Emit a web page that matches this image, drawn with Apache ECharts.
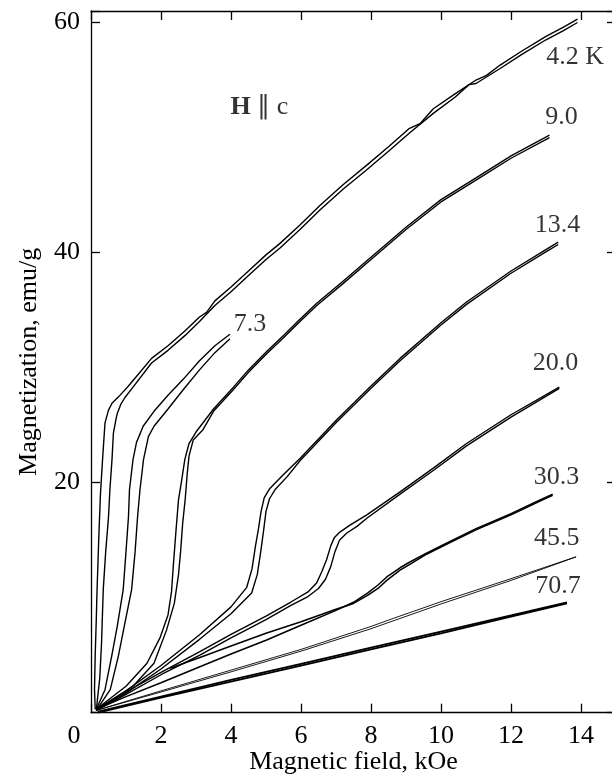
<!DOCTYPE html>
<html>
<head>
<meta charset="utf-8">
<script src="https://cdn.jsdelivr.net/npm/echarts@6/dist/echarts.min.js"></script>
<style>
html,body{margin:0;padding:0;background:#fff;}
#chart{width:612px;height:775px;}
</style>
</head>
<body>
<div id="chart"></div>
<script>
// ---- data (field kOe, magnetization emu/g); two sweep branches per temperature ----
var t42a = [[0.12,0.3],[0.1,2],[0.12,5],[0.15,8],[0.17,10.4],[0.22,15],[0.27,19],[0.33,22],[0.4,25.2],[0.5,26.3],[0.6,26.9],[0.8,27.5],[1.07,28.4],[1.4,29.6],[1.73,30.8],[2.2,31.9],[2.69,33.2],[3.1,34.4],[3.3,34.8],[3.54,35.8],[4.0,37.0],[4.5,38.4],[5.0,39.8],[5.4,40.8],[5.97,42.4],[6.54,44.1],[7.2,45.9],[7.88,47.6],[8.5,49.2],[9.1,50.8],[9.4,51.2],[9.78,52.5],[10.4,53.8],[11.0,55.0],[11.3,55.4],[11.69,56.3],[12.3,57.5],[13.0,58.8],[13.5,59.6],[13.9,60.3]];
var t42b = [[0.15,0.2],[0.25,3],[0.3,6],[0.35,10.7],[0.42,14],[0.5,17],[0.54,19.4],[0.6,22],[0.64,24.3],[0.72,25.6],[0.75,26.0],[0.85,26.8],[0.97,27.4],[1.2,28.3],[1.73,30.4],[2.2,31.5],[2.69,32.8],[3.1,34.0],[3.54,35.4],[4.0,36.6],[4.5,38.0],[5.0,39.4],[5.4,40.4],[5.97,42.0],[6.54,43.7],[7.2,45.5],[7.88,47.2],[8.5,48.8],[9.1,50.4],[9.78,52.1],[10.4,53.5],[10.8,54.6],[11.0,54.7],[11.69,56.0],[12.3,57.2],[13.0,58.5],[13.5,59.3],[13.9,60.0]];
var t73a = [[0.15,0.3],[0.4,2],[0.59,4.9],[0.75,7.5],[0.92,10.7],[1.0,14],[1.07,17],[1.1,19.4],[1.2,22],[1.3,23.5],[1.49,24.9],[1.8,26.2],[2.2,27.6],[2.64,29.0],[3.1,30.6],[3.54,31.9],[3.97,32.9]];
var t73b = [[0.15,0.2],[0.55,2],[0.78,4.9],[0.95,7.5],[1.16,10.7],[1.26,14],[1.33,17],[1.4,19.4],[1.5,22],[1.64,24.0],[1.8,24.9],[2.2,26.4],[2.64,28.1],[3.1,29.8],[3.54,31.3],[3.97,32.5]];
var t90a = [[0.15,0.3],[1.0,2.3],[1.6,4.3],[1.97,6.5],[2.2,8.5],[2.3,10.5],[2.35,12.7],[2.42,15.5],[2.5,18.5],[2.59,20.2],[2.68,22.0],[2.8,23.4],[3.0,24.4],[3.5,26.4],[4.07,28.3],[4.5,29.8],[5.02,31.4],[5.5,32.8],[5.97,34.2],[6.45,35.6],[7.2,37.5],[8.0,39.6],[9.0,42.2],[10.0,44.6],[11.0,46.5],[12.0,48.4],[13.1,50.2]];
var t90b = [[0.15,0.2],[1.2,2.3],[1.8,4.3],[2.16,7.2],[2.38,9.5],[2.5,12.0],[2.56,14],[2.62,16.5],[2.69,18.5],[2.75,20.8],[2.8,22.3],[2.92,23.7],[3.2,24.6],[3.5,26.2],[4.07,28.1],[4.5,29.6],[5.02,31.2],[5.5,32.6],[5.97,34.0],[6.45,35.4],[7.2,37.3],[8.0,39.4],[9.0,42.0],[10.0,44.4],[11.0,46.3],[12.0,48.2],[13.1,50.0]];
var t134a = [[0.15,0.3],[1,1.9],[2,4.1],[3.11,6.8],[4,9.2],[4.45,10.9],[4.6,12.5],[4.7,14.5],[4.78,15.9],[4.86,17.5],[4.95,18.7],[5.11,19.5],[5.5,20.7],[5.97,22.1],[7,25.4],[8,28.4],[8.83,30.8],[10,33.9],[10.73,35.7],[12,38.4],[13.02,40.3],[13.35,40.9]];
var t134b = [[0.15,0.2],[1,1.7],[2,3.8],[3.11,6.4],[4,8.6],[4.59,10.4],[4.75,12.0],[4.85,14.0],[4.93,15.8],[5.0,17.5],[5.1,18.6],[5.26,19.4],[5.6,20.5],[5.97,21.9],[7,25.2],[8,28.2],[8.83,30.6],[10,33.7],[10.73,35.5],[12,38.2],[13.02,40.1],[13.35,40.7]];
var t200a = [[0.15,0.3],[1,1.8],[2,3.5],[3.11,5.3],[4,6.8],[5,8.4],[5.7,9.6],[6.2,10.5],[6.45,11.3],[6.6,12.3],[6.73,13.3],[6.85,14.5],[6.95,15.2],[7.11,15.7],[7.4,16.3],[7.88,17.2],[8.83,19.2],[9.8,21.3],[10.73,23.4],[12,25.9],[13.38,28.3]];
var t200b = [[0.15,0.2],[1,1.6],[2,3.3],[3.11,5.0],[4,6.5],[5,8.1],[5.7,9.3],[6.2,10.1],[6.5,10.8],[6.7,11.6],[6.85,12.7],[6.97,14.0],[7.1,15.0],[7.3,15.6],[7.6,16.2],[7.88,16.9],[8.83,19.0],[9.8,21.1],[10.73,23.2],[12,25.7],[13.38,28.2]];
var t303a = [[0.15,0.3],[1,1.4],[2,2.6],[3.11,4.0],[4,5.1],[5,6.3],[6,7.6],[7,8.9],[7.5,9.6],[7.9,10.4],[8.2,11.1],[8.45,11.8],[8.83,12.6],[9.11,13.1],[9.6,13.9],[10.07,14.6],[11,16.0],[12,17.3],[12.83,18.5],[13.19,19.0]];
var t303b = [[2.26,3.86],[3.11,4.8],[4,5.8],[5,6.9],[6,7.9],[7,9.0],[7.5,9.5],[7.9,10.2],[8.2,10.8],[8.45,11.5],[8.83,12.4],[9.11,12.9],[9.6,13.8],[10.07,14.5],[11,15.9],[12,17.2],[12.83,18.4],[13.19,18.9]];
var t455a = [[0.15,0.2],[2,1.9],[4,3.7],[6,5.5],[8,7.5],[8.64,8.2],[10,9.65],[12,11.65],[13.86,13.55]];
var t455b = [[0.15,0.2],[2,1.8],[4,3.55],[6,5.35],[8,7.3],[10,9.45],[12,11.5],[13.86,13.55]];
var t707a = [[0.2,0.1],[2,1.4],[4,2.85],[6,4.25],[8,5.65],[10,7.05],[12,8.45],[13.6,9.6]];
var t707b = [[0.2,0.0],[2,1.3],[4,2.7],[6,4.1],[8,5.5],[10,6.9],[12,8.35],[13.6,9.5]];

// curve labels: [x, y, text] (label centres in data units)
var curveLabels = [[13.83,57.0,'4.2 K'],[13.44,51.8,'9.0'],[13.33,42.4,'13.4'],[4.54,33.8,'7.3'],[13.27,30.4,'20.0'],[13.3,20.5,'30.3'],[13.31,15.2,'45.5'],[13.34,11.0,'70.7']];
var fieldNote = [[4.81,52.6,'H']];

var xTicks = [0,2,4,6,8,10,12,14];
var yTicks = [20,40,60];
var xName = 'Magnetic field, kOe';
var yName = 'Magnetization, emu/g';

var FONT = "'Liberation Serif','Times New Roman',serif";
var FS = 26;

function curve(data, w) {
  return {type:'line', data:data, symbol:'none', smooth:false, silent:true,
          lineStyle:{color:'#000', width:w}, xAxisIndex:0, yAxisIndex:0, z:3};
}
var series = [
  curve(t42a,1.4), curve(t42b,1.4), curve(t73a,1.4), curve(t73b,1.4),
  curve(t90a,1.4), curve(t90b,1.4), curve(t134a,1.4), curve(t134b,1.4),
  curve(t200a,1.4), curve(t200b,1.4), curve(t303a,1.5), curve(t303b,1.5),
  curve(t455a,0.9), curve(t455b,0.9), curve(t707a,1.8), curve(t707b,1.8),
  {type:'scatter', symbolSize:0, silent:true, data:curveLabels, z:5,
   label:{show:true, position:'inside', color:'#000', fontFamily:FONT, fontSize:FS,
          formatter:function(p){return p.value[2];}}},
  {type:'scatter', symbolSize:0, silent:true, data:fieldNote, z:5,
   label:{show:true, position:'inside', color:'#000', fontFamily:FONT, fontSize:FS,
          formatter:function(){return '{b|H} ∥ c';},
          rich:{b:{fontFamily:FONT, fontSize:FS, fontWeight:'bold', color:'#000'}}}}
];

var axLine = {show:true, onZero:false, lineStyle:{color:'#000', width:1.3}};
var axTick = {show:true, inside:true, length:9, lineStyle:{color:'#000', width:1.3}};

var option = {
  animation:false,
  backgroundColor:'#fff',
  grid:{left:91, right:-4, top:11, bottom:62.3, containLabel:false, outerBoundsMode:'none'},
  xAxis:[
    {type:'value', position:'bottom', min:0, max:15, interval:2,
     axisLine:axLine, axisTick:axTick, splitLine:{show:false},
     name:xName, nameLocation:'middle', nameGap:36, nameMoveOverlap:false,
     nameTextStyle:{fontFamily:FONT, fontSize:FS, color:'#000'},
     axisLabel:{show:true, margin:10, color:'#000', fontFamily:FONT, fontSize:FS,
       formatter:function(v){ if(v===0) return '{z|0}'; return xTicks.indexOf(v)>=0 ? String(v) : ''; },
       rich:{z:{fontFamily:FONT, fontSize:FS, color:'#000', padding:[0,34,0,0]}}}},
    {type:'value', position:'top', min:0, max:15, interval:2,
     axisLine:axLine, axisTick:axTick, splitLine:{show:false}, axisLabel:{show:false}}
  ],
  yAxis:[
    {type:'value', position:'left', min:0, max:61, interval:20,
     axisLine:axLine, axisTick:axTick, splitLine:{show:false},
     name:yName, nameLocation:'middle', nameGap:49, nameMoveOverlap:false,
     nameTextStyle:{fontFamily:FONT, fontSize:FS, color:'#000'},
     axisLabel:{show:true, margin:11, color:'#000', fontFamily:FONT, fontSize:FS,
       formatter:function(v){ return yTicks.indexOf(v)>=0 ? String(v) : ''; }}},
    {type:'value', position:'right', min:0, max:61, interval:20,
     axisLine:axLine, axisTick:axTick, splitLine:{show:false}, axisLabel:{show:false}}
  ],
  series:series
};

var chart = echarts.init(document.getElementById('chart'), null, {renderer:'canvas'});
chart.setOption(option);
</script>
</body>
</html>
